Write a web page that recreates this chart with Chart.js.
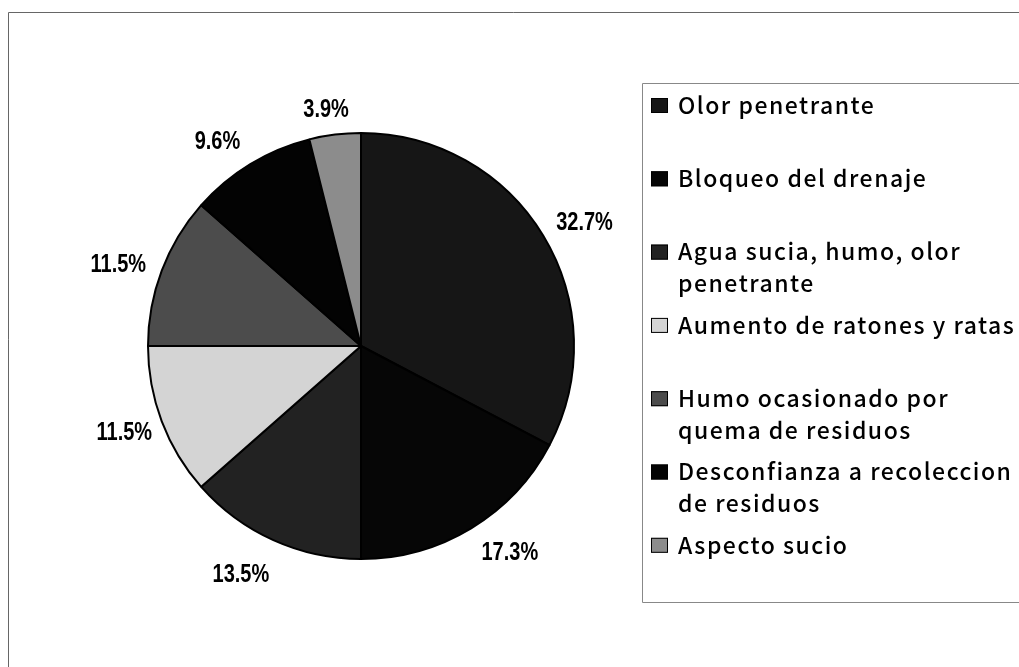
<!DOCTYPE html>
<html>
<head>
<meta charset="utf-8">
<script src="https://cdn.jsdelivr.net/npm/chart.js@4/dist/chart.umd.min.js"></script>
<style>
  html, body { margin: 0; padding: 0; background: #ffffff; }
  #wrap { width: 1019px; height: 667px; position: relative; }
</style>
</head>
<body>
<div id="wrap"><canvas id="pie"></canvas></div>
<script>
const categories = [
  'Olor penetrante',
  'Bloqueo del drenaje',
  'Agua sucia, humo, olor penetrante',
  'Aumento de ratones y ratas',
  'Humo ocasionado por quema de residuos',
  'Desconfianza a recoleccion de residuos',
  'Aspecto sucio'
];
// how each legend entry wraps in the picture
const legendLines = [
  ['Olor penetrante'],
  ['Bloqueo del drenaje'],
  ['Agua sucia, humo, olor', 'penetrante'],
  ['Aumento de ratones y ratas'],
  ['Humo ocasionado por', 'quema de residuos'],
  ['Desconfianza a recoleccion', 'de residuos'],
  ['Aspecto sucio']
];
const percents = [32.7, 17.3, 13.5, 11.5, 11.5, 9.6, 3.9];
const sliceColors = ['#161616', '#060606', '#222222', '#d4d4d4', '#4c4c4c', '#030303', '#8c8c8c'];

const LABEL_FONT = '"Liberation Sans", Arial, sans-serif';
const LEGEND_FONT = '"Noto Sans CJK JP", "Noto Sans", sans-serif';

// excel "best fit" moves some labels off the plain radial spot
const labelNudge = [[7, 7], [18, -10], [-16, -2], [0, -3], [-6, 8], [-12, 11], [-4, 14]];

// frame + legend box + legend entries
const framePlugin = {
  id: 'frame',
  beforeDraw(chart) {
    const ctx = chart.ctx;
    ctx.save();
    ctx.strokeStyle = '#666666';
    ctx.lineWidth = 1;
    ctx.beginPath();
    ctx.moveTo(8.5, 667);
    ctx.lineTo(8.5, 12.5);
    ctx.lineTo(1019, 12.5);
    ctx.stroke();

    ctx.strokeStyle = '#888888';
    ctx.beginPath();
    ctx.moveTo(1019, 83.5);
    ctx.lineTo(642.5, 83.5);
    ctx.lineTo(642.5, 602.5);
    ctx.lineTo(1019, 602.5);
    ctx.stroke();
    ctx.restore();
  },
  afterDraw(chart) {
    const ctx = chart.ctx;
    const colors = chart.data.datasets[0].backgroundColor;
    ctx.save();
    ctx.font = '500 23px ' + LEGEND_FONT;
    ctx.letterSpacing = '1.5px';
    ctx.textBaseline = 'middle';
    legendLines.forEach((lines, i) => {
      const y = 105 + i * 73.3;
      ctx.fillStyle = colors[i];
      ctx.fillRect(651, y - 7, 17, 15);
      ctx.strokeStyle = '#000000';
      ctx.lineWidth = 1;
      ctx.strokeRect(651.5, y - 6.5, 16, 14);
      ctx.fillStyle = '#000000';
      lines.forEach((t, j) => {
        ctx.fillText(t, 678, y + j * 32);
      });
    });
    ctx.restore();
  }
};

// percentage labels outside the slices
const labelPlugin = {
  id: 'outLabels',
  afterDatasetsDraw(chart) {
    const ctx = chart.ctx;
    const meta = chart.getDatasetMeta(0);
    ctx.save();
    ctx.font = 'bold 25px ' + LABEL_FONT;
    ctx.fillStyle = '#000000';
    ctx.textAlign = 'center';
    ctx.textBaseline = 'middle';
    meta.data.forEach((arc, i) => {
      const p = arc.getProps(['x', 'y', 'startAngle', 'endAngle', 'outerRadius'], true);
      const mid = (p.startAngle + p.endAngle) / 2;
      const r = p.outerRadius + 40;
      const lx = p.x + Math.cos(mid) * r + labelNudge[i][0];
      const ly = p.y + Math.sin(mid) * r + labelNudge[i][1];
      ctx.save();
      ctx.translate(lx, ly);
      ctx.scale(0.8, 1);  // narrow face like the original
      ctx.fillText(percents[i].toFixed(1) + '%', 0, 1);
      ctx.restore();
    });
    ctx.restore();
  }
};

new Chart(document.getElementById('pie'), {
  type: 'pie',
  data: {
    labels: categories,
    datasets: [{
      data: percents,
      backgroundColor: sliceColors,
      borderColor: '#000000',
      borderWidth: 2
    }]
  },
  options: {
    responsive: true,
    maintainAspectRatio: false,
    animation: false,
    layout: {
      padding: { left: 147, right: 444, top: 132, bottom: 107 }
    },
    plugins: {
      legend: { display: false },
      tooltip: { enabled: false }
    }
  },
  plugins: [framePlugin, labelPlugin]
});
</script>
</body>
</html>
